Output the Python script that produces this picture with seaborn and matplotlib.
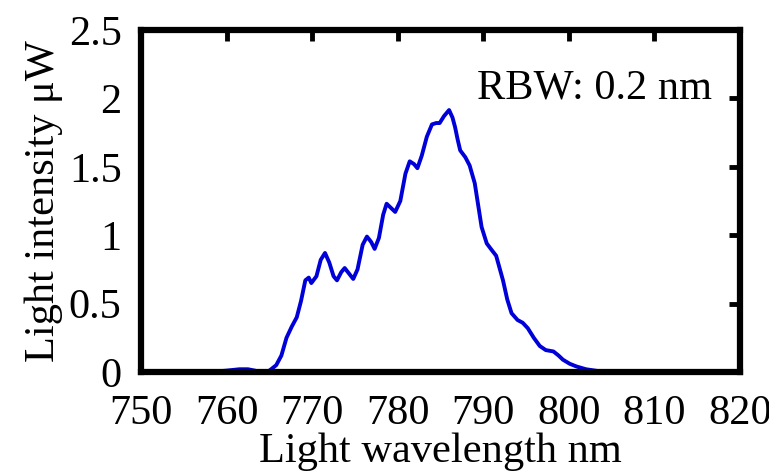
import numpy as np
import pandas as pd
import matplotlib
matplotlib.use("Agg")
import matplotlib.pyplot as plt
import seaborn as sns

# spectrum (nm, uW)
wavelength = [755, 758, 760, 761.5, 762.5, 763.3, 764.1, 765, 765.8, 766.4,
              767.0, 767.6, 768.2, 768.7, 769.2, 769.6, 769.9, 770.5, 771.0, 771.5,
              772.0, 772.5, 772.9, 773.4, 773.8, 774.3, 774.8, 775.3, 775.9, 776.4,
              776.9, 777.3, 777.8, 778.3, 778.7, 779.2, 779.7, 780.3, 780.9, 781.4,
              781.9, 782.3, 782.8, 783.4, 784.0, 784.5, 784.9, 785.4, 786.0, 786.4,
              786.7, 787.0, 787.3, 787.9, 788.4, 789.0, 789.4, 789.8, 790.4, 791.0,
              791.5, 792.3, 792.8, 793.3, 794.0, 794.6, 795.2, 795.9, 796.6, 797.3,
              798.2, 798.8, 799.3, 800.1, 800.9, 802.0, 803.6, 805.0, 815.0]
intensity = [0.0, 0.0, 0.01, 0.02, 0.02, 0.01, -0.005, 0.01, 0.05, 0.12,
             0.25, 0.33, 0.40, 0.52, 0.67, 0.69, 0.65, 0.70, 0.82, 0.87,
             0.80, 0.70, 0.67, 0.73, 0.76, 0.72, 0.68, 0.75, 0.93, 0.99,
             0.95, 0.90, 0.98, 1.15, 1.23, 1.20, 1.17, 1.25, 1.45, 1.54,
             1.52, 1.49, 1.58, 1.72, 1.81, 1.82, 1.82, 1.87, 1.915, 1.86,
             1.79, 1.70, 1.62, 1.57, 1.51, 1.38, 1.22, 1.06, 0.94, 0.89,
             0.85, 0.67, 0.53, 0.43, 0.38, 0.36, 0.32, 0.25, 0.19, 0.16,
             0.15, 0.12, 0.09, 0.06, 0.04, 0.02, 0.005, 0.0, 0.0]

x_ticks = [750, 760, 770, 780, 790, 800, 810, 820]
y_ticks = [0, 0.5, 1, 1.5, 2, 2.5]
y_tick_labels = ["0", "0.5", "1", "1.5", "2", "2.5"]

df = pd.DataFrame({"wavelength": wavelength, "intensity": intensity})

sns.set_style("white")
plt.rcParams['font.family'] = ['Liberation Serif', 'DejaVu Serif']
plt.rcParams['text.color'] = 'black'
plt.rcParams['axes.labelcolor'] = 'black'

FS = 30.5

fig, ax = plt.subplots(figsize=(7.69, 4.72), dpi=100)
fig.subplots_adjust(left=0.1834, right=0.9623, top=0.9364, bottom=0.2119)

sns.lineplot(data=df, x="wavelength", y="intensity", ax=ax,
             color="#0000d8", linewidth=2.8, estimator=None)

ax.set_xlim(750, 820)
ax.set_ylim(0, 2.5)
ax.set_xticks(x_ticks)
ax.set_yticks(y_ticks)
ax.set_yticklabels(y_tick_labels)

for s in ax.spines.values():
    s.set_visible(True)
    s.set_linewidth(4.5)
    s.set_color("black")

ax.tick_params(direction="in", length=8, width=3.5, labelsize=FS, pad=14,
               top=True, right=True, colors="black", labelcolor="black")
ax.tick_params(axis="x", pad=16)

ax.set_xlabel("Light wavelength nm", fontsize=FS, labelpad=0, color="black")
ax.set_ylabel("Light intensity μW", fontsize=FS, labelpad=4, color="black")

ax.text(0.953, 0.83, "RBW: 0.2 nm", transform=ax.transAxes,
        ha="right", va="center", fontsize=FS, color="black")

plt.savefig("out.png", dpi=100)
plt.close()
